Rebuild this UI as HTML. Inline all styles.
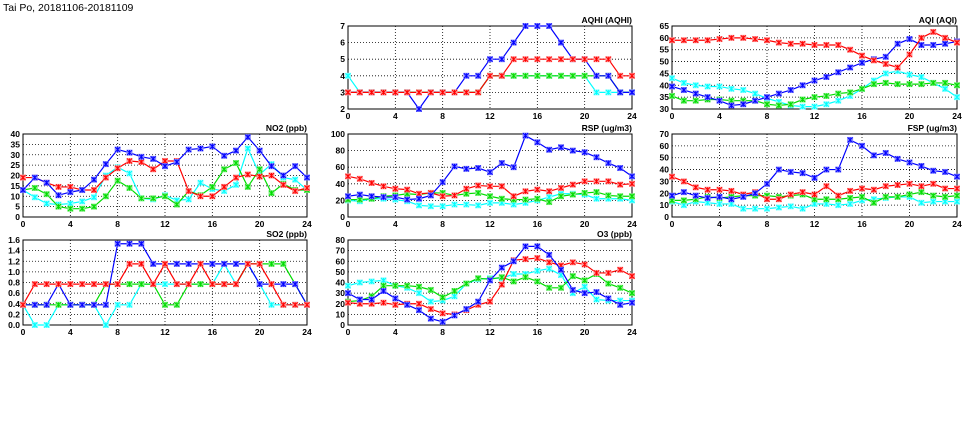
<!DOCTYPE html>
<html><head><meta charset="utf-8"><style>
body{margin:0;background:#fff;width:975px;height:447px;overflow:hidden}
svg{display:block;font-family:"Liberation Sans",sans-serif}
</style></head><body>
<svg id="c" width="975" height="447">
<text x="3" y="11" font-size="10.5">Tai Po, 20181106-20181109</text>
</svg>
<script>
const hours=[0,1,2,3,4,5,6,7,8,9,10,11,12,13,14,15,16,17,18,19,20,21,22,23,24];
const xTicks=[0,4,8,12,16,20,24];
const aqhiBlue=[3,3,3,3,3,3,2,3,3,3,4,4,5,5,6,7,7,7,6,5,5,4,4,3,3];
const aqhiRed=[3,3,3,3,3,3,3,3,3,3,3,3,4,4,5,5,5,5,5,5,5,5,5,4,4];
const aqhiGreen=[3,3,3,3,3,3,3,3,3,3,3,3,4,4,4,4,4,4,4,4,4,4,4,3,3];
const aqhiCyan=[4,3,3,3,3,3,3,3,3,3,3,3,4,4,4,4,4,4,4,4,4,3,3,3,3];
const aqiBlue=[39.5,38,36.5,35,33.5,31.5,32,33.5,35,36.5,38,40,42,43.5,45.5,47.5,49.5,51,52,57.5,59.5,57,57,57.5,58.5];
const aqiRed=[59,59,59,59,59.5,60,60,59.5,59,58,57.5,57.5,57,57,57,55,52.5,50.5,49,47.5,53,60,62.5,60,58];
const aqiGreen=[35.5,33.5,33.5,34,34,33.5,33.5,33.5,32,31.5,32,34,35,35.5,36.5,37,38.5,40.5,41,40.5,40.5,40.5,41,41,40];
const aqiCyan=[43,41,40,39.5,39.5,38.5,38,36.5,34.5,33,31.5,31,31,32,33.5,35.5,38.5,42,45,46,44.5,43.5,41,38.5,35];
const no2Blue=[13,19,16.5,10.5,12,13,18,25.5,32.5,31,29,28,24.5,26.5,32.5,33,34,29.5,32,38.5,32,24.5,20,24.5,19];
const no2Red=[19,19,16.5,14.5,14.5,13,13,19,23.5,27,26.5,23,27,27,12.5,10,10,14.5,19,20.5,19.5,20,15.5,12.5,14];
const no2Green=[13,14,11,5,4,4,5,10,17.5,14,9,9,10,6,12.5,10.5,14.5,23,26,14.5,23,11.5,16,13,13];
const no2Cyan=[13,9.5,6.5,6,6.5,7.5,9.5,20,24,21,9,8.5,10.5,8,8.5,16.5,13.5,12.5,15.5,33,20.5,25.5,19,18,13];
const rspBlue=[25,27,25,24,24,21,22,26,42,61,58,59,54,65,60,98,90,81,84,80,78,72,65,59,49];
const rspRed=[49,46,41,37,34,33,28,29,25,26,34,38,37,37,25,31,33,31,35,39,43,43,43,39,40];
const rspGreen=[21,21,22,25,26,28,27,29,29,26,28,29,25,22,21,21,22,18,25,27,29,30,26,25,25];
const rspCyan=[20,19,22,22,21,19,14,13,13,15,15,14,17,17,15,17,20,24,28,28,27,22,22,22,20];
const fspBlue=[18,21,18,16,17,15,17,20,28,40,38,37,33,40,40,65,60,52,54,49,46,43,39,38,34];
const fspRed=[34,30,25,23,23,22,19,21,15,15,19,21,19,26,18,22,24,23,26,27,28,26,28,24,24];
const fspGreen=[14,14,15,17,16,17,18,18,18,17,18,19,15,15,15,16,17,12,17,17,19,21,18,17,18];
const fspCyan=[13,10,13,12,11,11,7,7,7,8,9,7,11,11,10,11,14,15,16,17,17,12,13,13,13];
const so2Blue=[.38,.38,.38,.77,.38,.38,.38,.38,1.53,1.53,1.53,1.15,1.15,1.15,1.15,1.15,1.15,1.15,1.15,1.15,.77,.77,.77,.77,.38];
const so2Red=[.38,.77,.77,.77,.77,.77,.77,.77,.77,1.15,1.15,.77,1.15,.77,.77,1.15,.77,.77,.77,1.15,1.15,.77,.38,.38,.38];
const so2Green=[.38,.38,.38,.38,.38,.38,.38,.77,.77,.77,.77,.77,.38,.38,.77,.77,.77,.77,.77,1.15,1.15,1.15,1.15,.77,.38];
const so2Cyan=[.38,0,0,.38,.38,.38,.38,0,.38,.38,.77,.77,.77,.77,.77,.77,.77,1.15,.77,1.15,.77,.38,.38,.38,.38];
const o3Blue=[30,24,24,32,25,19,14,6,3,9,15,22,42,54,60,74,74,66,52,33,30,31,25,19,21];
const o3Red=[21,20,20,21,19,20,20,15,11,10,14,19,22,38,61,62,63,59,56,59,57,49,49,52,46];
const o3Green=[22,23,27,37,37,37,36,33,26,32,39,44,43,45,41,45,41,35,35,46,42,48,39,35,30];
const o3Cyan=[37,40,41,42,37,35,30,22,23,27,39,43,44,44,48,48,51,53,47,30,36,24,23,23,23];

const NS='http://www.w3.org/2000/svg';
const svg=document.getElementById('c');
function mk(tag,attrs,parent){const e=document.createElementNS(NS,tag);for(const k in attrs)e.setAttribute(k,attrs[k]);(parent||svg).appendChild(e);return e;}
const COL={blue:['#0000ff','#8888ff'],red:['#ff0000','#ff9999'],green:['#00dd00','#88ee88'],cyan:['#00ffff','#99ffff']};

function panel(name,title,L,R,T,B,ymin,ymax,yTicks,fmt,series){
  const g=mk('g',{});
  
  
  const X=v=>L+(v-0)/(24-0)*(R-L);
  const Y=v=>B-(v-ymin)/(ymax-ymin)*(B-T);
  yTicks.forEach(t=>{
    const y=Y(t);
    if(t>ymin&&t<ymax){const gl=mk('line',{x1:L,x2:R,y1:y,y2:y,stroke:'#000','stroke-width':0.8,'stroke-dasharray':'1,2'},g);
      }
    const tx=mk('text',{x:L-3,y:y+3,'font-size':8.5,'font-weight':'bold','text-anchor':'end'},g);
    tx.textContent=fmt(t);
    
  });
  xTicks.forEach(t=>{
    const x=X(t);
    if(t>0&&t<24){const gl=mk('line',{x1:x,x2:x,y1:T,y2:B,stroke:'#000','stroke-width':0.8,'stroke-dasharray':'1,2'},g);
      }
    const tx=mk('text',{x:x,y:B+10,'font-size':8.5,'font-weight':'bold','text-anchor':'middle'},g);
    tx.textContent=t;
    
  });
  const fr=mk('rect',{x:L,y:T,width:R-L,height:B-T,fill:'none',stroke:'#000','stroke-width':1},g);
  
  const ti=mk('text',{x:R,y:T-3,'font-size':8.5,'font-weight':'bold','text-anchor':'end'},g);
  ti.textContent=title;
  
  series.forEach(([c,vals])=>{
    const [dark,light]=COL[c];
    const pts=hours.map((h,i)=>X(h)+','+Y(vals[i])).join(' ');
    const pl=mk('polyline',{points:pts,fill:'none',stroke:dark,'stroke-width':1.2},g);
    
    
    hours.forEach((h,i)=>{
      const x=X(h),y=Y(vals[i]);
      const m=mk('g',{},g);
      
      
      mk('rect',{x:x-3,y:y-3,width:6,height:6,fill:light},m);
      mk('path',{d:`M${x-2.5} ${y-2.5}L${x+2.5} ${y+2.5}M${x-2.5} ${y+2.5}L${x+2.5} ${y-2.5}M${x} ${y-2.5}L${x} ${y+2.5}`,stroke:dark,'stroke-width':1},m);
    });
  });
}
const f0=v=>String(v), f1=v=>v.toFixed(1);
panel('aqhi','AQHI (AQHI)',348,632,26,109,2,7,[2,3,4,5,6,7],f0,[['cyan',aqhiCyan],['green',aqhiGreen],['blue',aqhiBlue],['red',aqhiRed]]);
panel('aqi','AQI (AQI)',672,957,26,109,30,65,[30,35,40,45,50,55,60,65],f0,[['cyan',aqiCyan],['green',aqiGreen],['blue',aqiBlue],['red',aqiRed]]);
panel('no2','NO2 (ppb)',23,307,134,217,0,40,[0,5,10,15,20,25,30,35,40],f0,[['cyan',no2Cyan],['green',no2Green],['red',no2Red],['blue',no2Blue]]);
panel('rsp','RSP (ug/m3)',348,632,134,217,0,100,[0,20,40,60,80,100],f0,[['cyan',rspCyan],['green',rspGreen],['red',rspRed],['blue',rspBlue]]);
panel('fsp','FSP (ug/m3)',672,957,134,217,0,70,[0,10,20,30,40,50,60,70],f0,[['cyan',fspCyan],['green',fspGreen],['red',fspRed],['blue',fspBlue]]);
panel('so2','SO2 (ppb)',23,307,240,325,0,1.6,[0,0.2,0.4,0.6,0.8,1.0,1.2,1.4,1.6],f1,[['cyan',so2Cyan],['green',so2Green],['blue',so2Blue],['red',so2Red]]);
panel('o3','O3 (ppb)',348,632,240,325,0,80,[0,10,20,30,40,50,60,70,80],f0,[['cyan',o3Cyan],['green',o3Green],['red',o3Red],['blue',o3Blue]]);
</script>
</body></html>
